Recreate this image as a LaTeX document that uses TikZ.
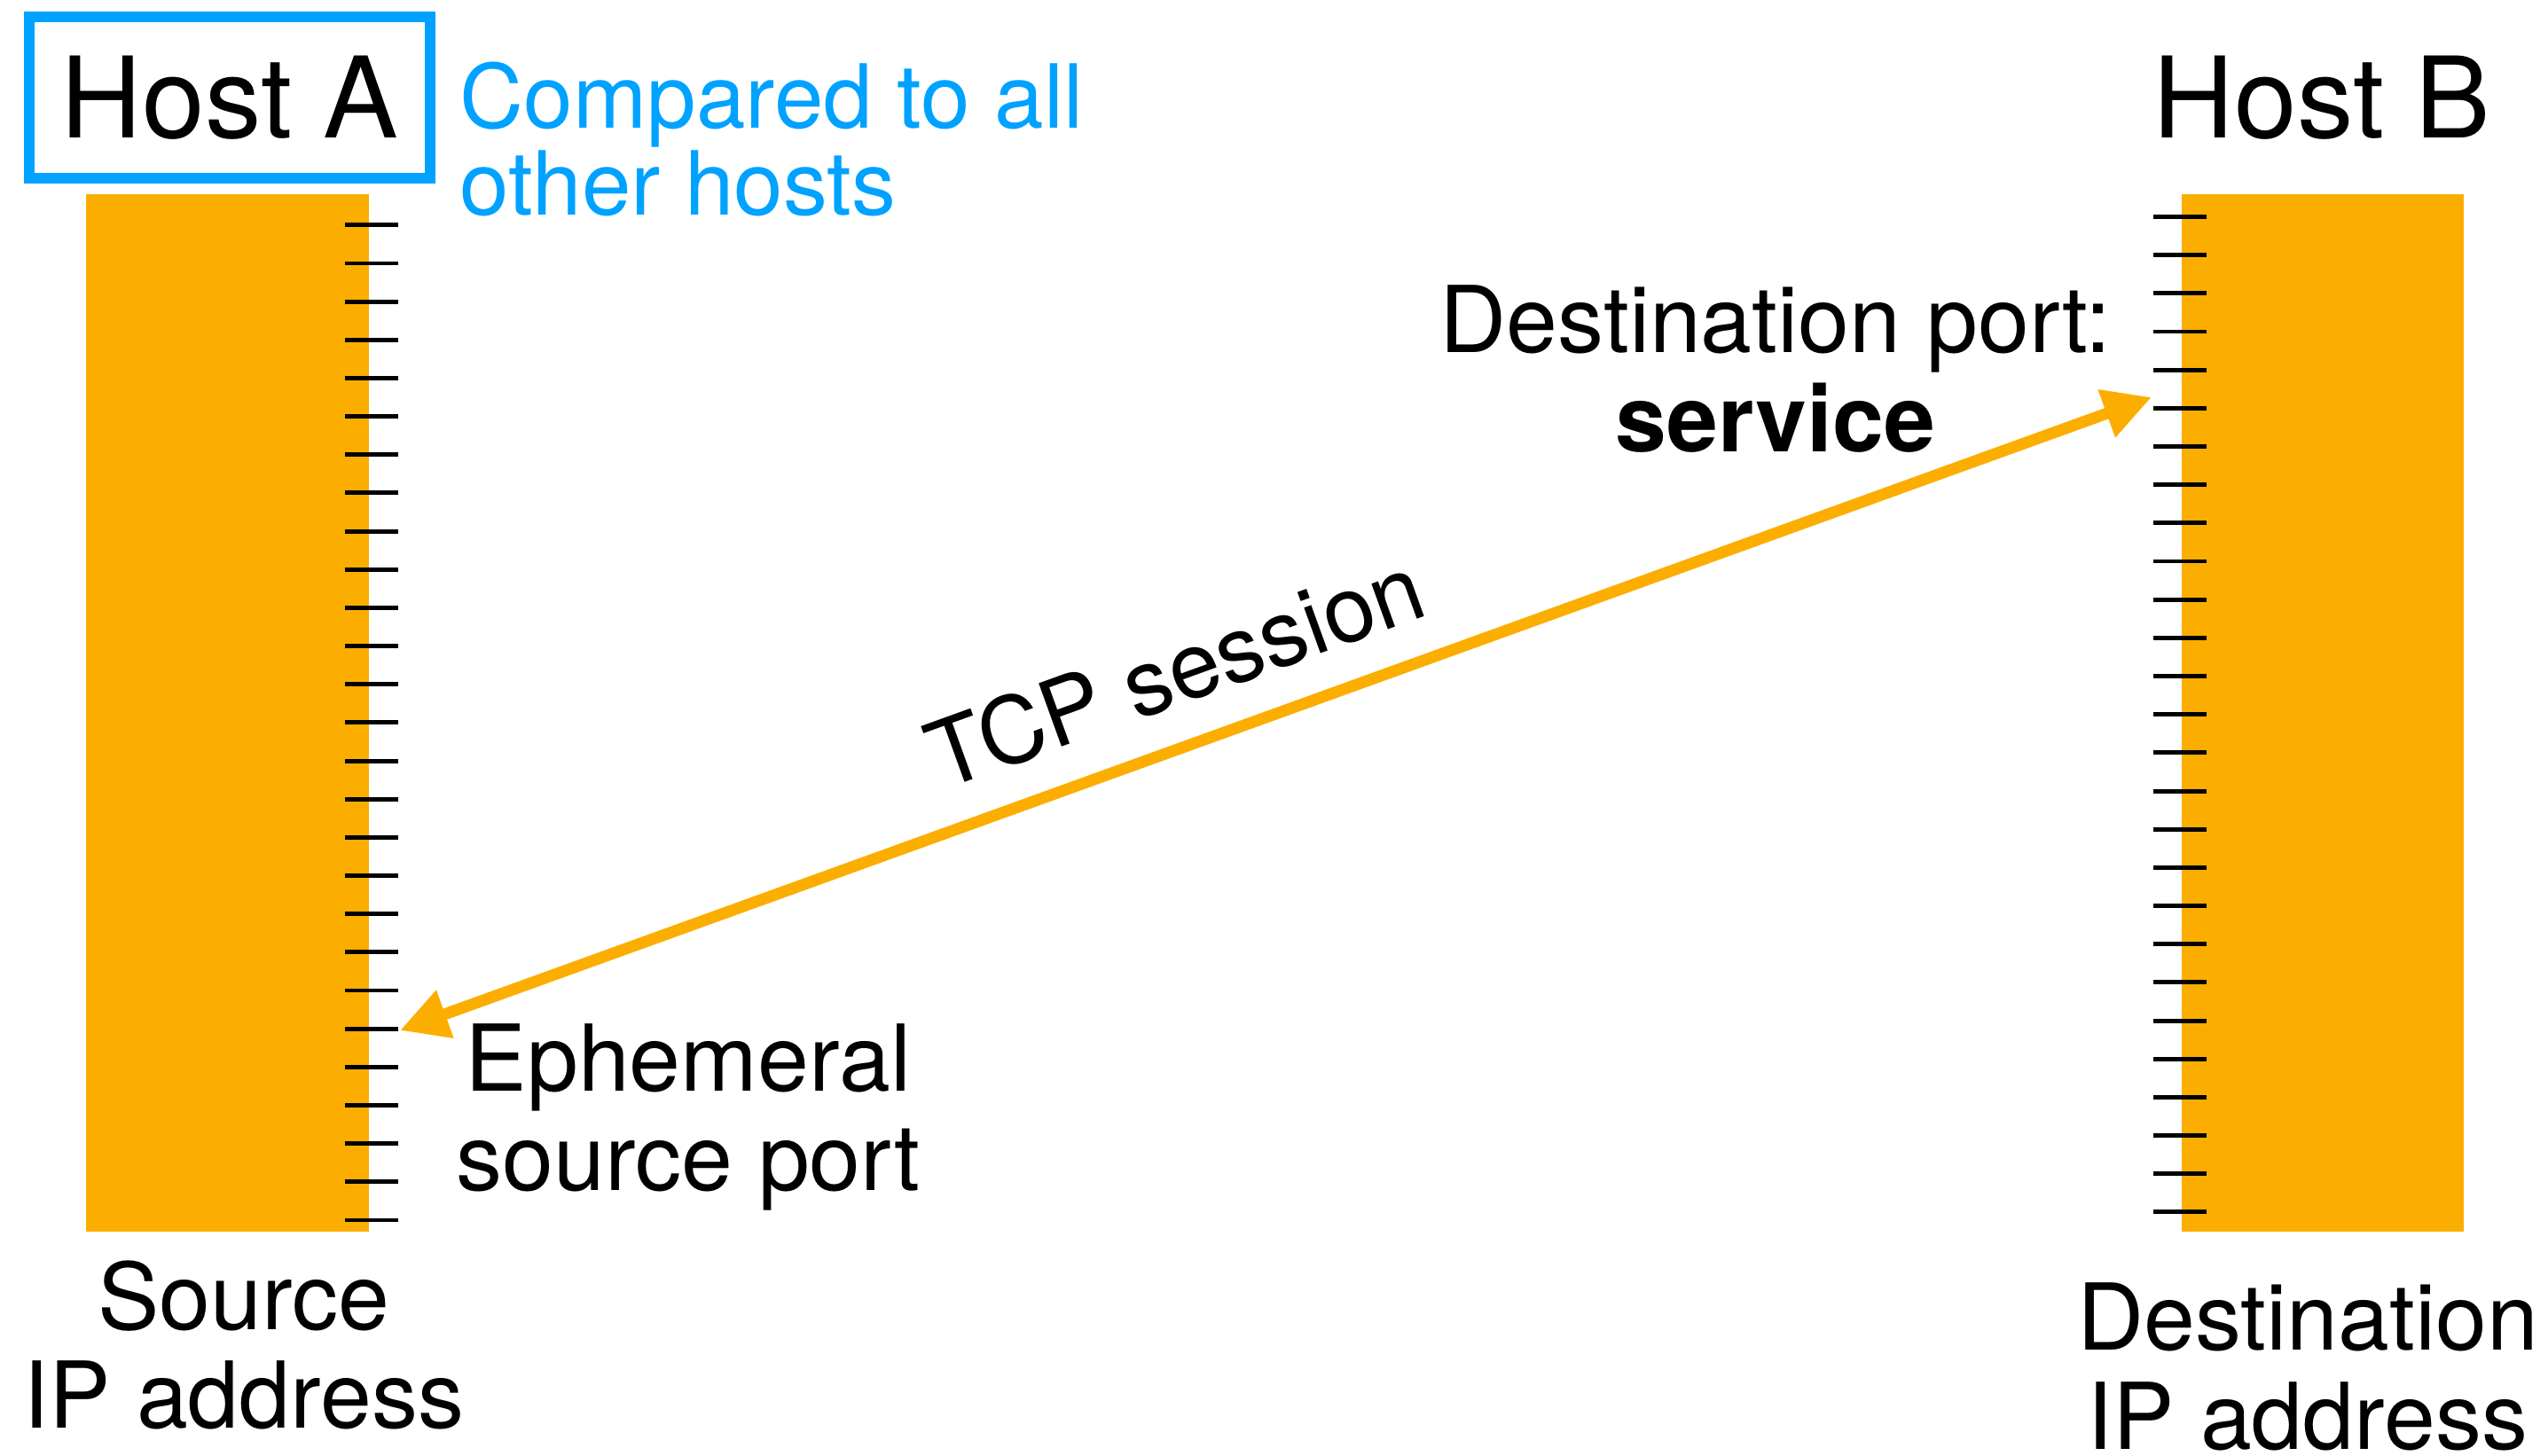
\documentclass[tikz,border=0pt]{standalone}
\usepackage{fontspec}
\setmainfont{TeX Gyre Heros}
\usetikzlibrary{arrows.meta}
\definecolor{barorange}{RGB}{252,174,0}
\definecolor{hostblue}{RGB}{0,162,255}

\begin{document}
\begin{tikzpicture}[
  bar/.style={fill=barorange, draw=none},
  porttick/.style={draw=black, line width=1.4pt},
  hostname/.style={inner sep=0pt, font=\fontsize{36.1pt}{40pt}\selectfont},
  portlabel/.style={align=center, inner sep=0pt, font=\fontsize{29.6pt}{31.8pt}\selectfont},
  session/.style={draw=barorange, line width=0.13cm, {Triangle[length=0.54cm,width=0.54cm]}-{Triangle[length=0.54cm,width=0.54cm]}}
]
\useasboundingbox (0,0) rectangle (28.73,16.41);
% address blocks of the two hosts
\draw [bar] (0.97,2.52) rectangle (4.16,14.22);
\draw [bar] (24.60,2.52) rectangle (27.78,14.22);
% one tick per port
\foreach \k in {0,...,26} {
  \draw [porttick] (3.89,13.872-0.4316*\k) -- (4.49,13.872-0.4316*\k);
  \draw [porttick] (24.28,13.965-0.4317*\k) -- (24.88,13.965-0.4317*\k);
}
\node [hostname, draw=hostblue, line width=0.125cm, minimum width=4.52cm, minimum height=1.82cm] (hostA) at (2.59,15.31) {Host A};
\node [hostname] (hostB) at (26.18,15.31) {Host B};
\node [portlabel, align=left, anchor=west, text=hostblue, font=\fontsize{28.4pt}{26.5pt}\selectfont] (others) at (5.18,14.845) {Compared to all\\other hosts};
\node [portlabel] (srcip) at (2.75,1.24) {Source\\IP address};
\node [portlabel] (dstip) at (26.02,0.995) {Destination\\IP address};
\node [portlabel] (ephport) at (7.76,3.81) {Ephemeral\\source port};
\node [portlabel] (dstport) at (20.02,12.25) {Destination port:\\\textbf{service}};
% the session between the two ports
\coordinate (eph) at (4.51,4.79);
\coordinate (svc) at (24.26,11.93);
\draw [session] (eph) -- (svc) node [portlabel, pos=0.457, sloped, above=0.38cm] (tcp) {TCP session};
\end{tikzpicture}
\end{document}
